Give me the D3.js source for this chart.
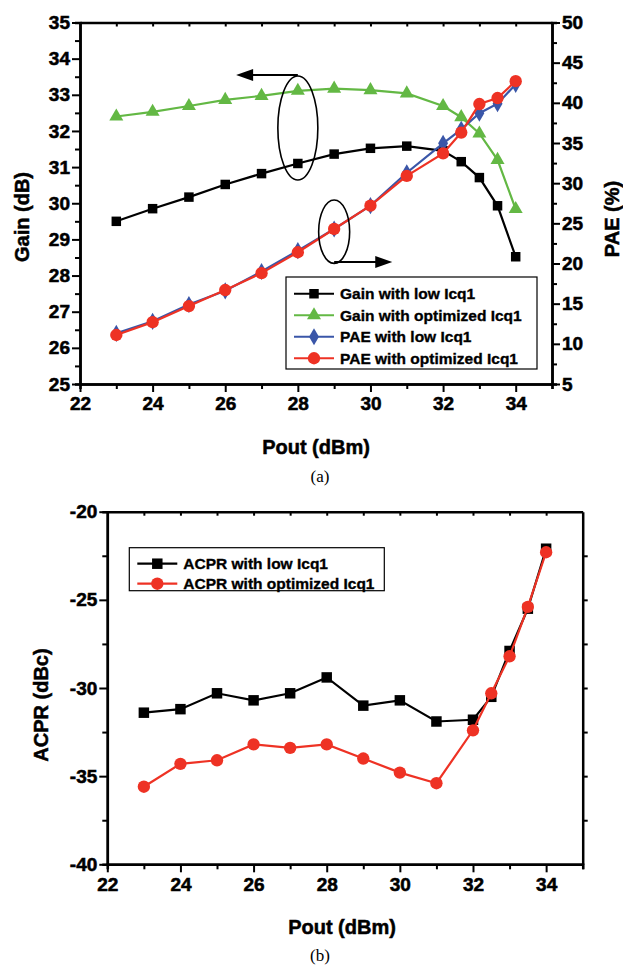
<!DOCTYPE html>
<html>
<head>
<meta charset="utf-8">
<script src="https://cdn.jsdelivr.net/npm/d3@7"></script>
<style>
  body { margin: 0; background: #fff; }
  svg { display: block; }
  text { font-family: "Liberation Sans", Arial, sans-serif; font-weight: bold; fill: #000; }
  .tick text { font-family: "Liberation Sans", Arial, sans-serif; font-weight: bold; font-size: 19px; fill: #000; stroke: #000; stroke-width: 0.55px; }
  .domain, .tick line { stroke: #000; }
</style>
</head>
<body>
<svg id="fig" width="623" height="965"></svg>
<script>
// data
var pout = [23, 24, 25, 26, 27, 28, 29, 30, 31, 32, 32.5, 33, 33.5, 34];
var gainLow = [29.5, 29.85, 30.17, 30.52, 30.82, 31.1, 31.36, 31.52, 31.58, 31.45, 31.15, 30.71, 29.93, 28.52];
var gainOpt = [32.4, 32.53, 32.69, 32.86, 32.97, 33.11, 33.17, 33.13, 33.04, 32.69, 32.38, 31.93, 31.2, 29.84];
var paeLow = [11.3, 12.8, 14.9, 16.6, 19.0, 21.6, 24.3, 27.2, 31.3, 34.96, 36.7, 38.7, 39.9, 42.3];
var paeOpt = [11.1, 12.7, 14.7, 16.7, 18.8, 21.4, 24.3, 27.2, 30.9, 33.7, 36.3, 39.85, 40.6, 42.7];
var acprLow = [-31.4, -31.2, -30.3, -30.7, -30.3, -29.4, -31.0, -30.7, -31.9, -31.8, -30.5, -27.9, -25.5, -22.1];
var acprOpt = [-35.6, -34.3, -34.1, -33.2, -33.4, -33.2, -34.0, -34.8, -35.4, -32.4, -30.3, -28.2, -25.4, -22.3];

var xTicks = [22, 24, 26, 28, 30, 32, 34];
var gainTicks = [25, 26, 27, 28, 29, 30, 31, 32, 33, 34, 35];
var paeTicks = [5, 10, 15, 20, 25, 30, 35, 40, 45, 50];
var acprTicks = [-40, -35, -30, -25, -20];

var seriesA = [
  {name: "Gain with low Icq1", y: gainLow, axis: "L", color: "#000000", sym: d3.symbolSquare, size: 90},
  {name: "Gain with optimized Icq1", y: gainOpt, axis: "L", color: "#63b844", sym: d3.symbolTriangle, size: 85},
  {name: "PAE with low Icq1", y: paeLow, axis: "R", color: "#3a56a8", sym: d3.symbolDiamond, size: 85},
  {name: "PAE with optimized Icq1", y: paeOpt, axis: "R", color: "#ee3224", sym: d3.symbolCircle, size: 120}
];
var seriesB = [
  {name: "ACPR with low Icq1", y: acprLow, color: "#000000", sym: d3.symbolSquare, size: 110},
  {name: "ACPR with optimized Icq1", y: acprOpt, color: "#ee3224", sym: d3.symbolCircle, size: 120}
];

var svg = d3.select("#fig");
var hyphen = function (d) { return String(d); };

function range(a, b, s) { return d3.range(a, b + s / 2, s); }

function styleAxis(g) {
  g.select(".domain").attr("stroke-width", 2.5);
  g.selectAll(".tick line").attr("stroke-width", 2);
}

function drawSeries(g, x, y, s) {
  var line = d3.line()
    .x(function (d, i) { return x(pout[i]); })
    .y(function (d) { return y(d); });
  g.append("path")
    .datum(s.y)
    .attr("fill", "none")
    .attr("stroke", s.color)
    .attr("stroke-width", 2.2)
    .attr("d", line);
  g.selectAll(null)
    .data(s.y)
    .enter().append("path")
    .attr("transform", function (d, i) { return "translate(" + x(pout[i]) + "," + y(d) + ")"; })
    .attr("d", d3.symbol().type(s.sym).size(s.size))
    .attr("fill", s.color);
}

function drawLegend(g, items, left, top, w, h, rowH) {
  g.append("rect")
    .attr("x", left).attr("y", top).attr("width", w).attr("height", h)
    .attr("fill", "#fff").attr("stroke", "#000").attr("stroke-width", 1.2);
  items.forEach(function (s, i) {
    var cy = top + rowH / 2 + 6 + i * rowH;
    g.append("line")
      .attr("x1", left + 8).attr("x2", left + 48).attr("y1", cy).attr("y2", cy)
      .attr("stroke", s.color).attr("stroke-width", 2.2);
    g.append("path")
      .attr("transform", "translate(" + (left + 28) + "," + cy + ")")
      .attr("d", d3.symbol().type(s.sym).size(s.size))
      .attr("fill", s.color);
    g.append("text")
      .attr("x", left + 54).attr("y", cy + 5.5)
      .attr("font-size", "15.5px")
      .attr("stroke", "#000").attr("stroke-width", 0.35)
      .text(s.name);
  });
}

function label(g, txt, x, y, rot) {
  g.append("text")
    .attr("transform", "translate(" + x + "," + y + ")" + (rot ? " rotate(-90)" : ""))
    .attr("text-anchor", "middle")
    .attr("font-size", "20px")
    .attr("stroke", "#000").attr("stroke-width", 0.5)
    .text(txt);
}

function caption(g, txt, x, y) {
  g.append("text")
    .attr("x", x).attr("y", y)
    .attr("text-anchor", "middle")
    .style("font-family", "'Liberation Serif', 'Times New Roman', serif")
    .style("font-weight", "normal")
    .attr("font-size", "17px")
    .text(txt);
}

// ---------- (a) gain / PAE ----------
var xa = d3.scaleLinear().domain([22, 35]).range([80, 552]);
var yGain = d3.scaleLinear().domain([25, 35]).range([384, 22.5]);
var yPae = d3.scaleLinear().domain([5, 50]).range([384, 22.5]);

var ga = svg.append("g");

// minor ticks first
ga.append("g").attr("transform", "translate(0,384)")
  .call(d3.axisBottom(xa).tickValues(range(23, 35, 2)).tickSize(5).tickFormat(""))
  .call(styleAxis);
ga.append("g").attr("transform", "translate(80,0)")
  .call(d3.axisLeft(yGain).tickValues(range(25.5, 34.5, 1)).tickSize(5).tickFormat(""))
  .call(styleAxis);
ga.append("g").attr("transform", "translate(552,0)")
  .call(d3.axisRight(yPae).tickValues(range(7.5, 47.5, 5)).tickSize(5).tickFormat(""))
  .call(styleAxis);
ga.append("g").attr("transform", "translate(0,22.5)")
  .call(d3.axisTop(xa).tickValues(range(23, 34, 1)).tickSize(-4).tickFormat("").tickSizeOuter(0))
  .call(styleAxis);

ga.append("g").attr("transform", "translate(0,384)")
  .call(d3.axisBottom(xa).tickValues(xTicks).tickSize(8).tickSizeOuter(0).tickPadding(5))
  .call(styleAxis);
ga.append("g").attr("transform", "translate(80,0)")
  .call(d3.axisLeft(yGain).tickValues(gainTicks).tickSize(8).tickSizeOuter(0).tickPadding(2))
  .call(styleAxis);
ga.append("g").attr("transform", "translate(552,0)")
  .call(d3.axisRight(yPae).tickValues(paeTicks).tickSize(8).tickSizeOuter(0).tickPadding(2))
  .call(styleAxis);

seriesA.forEach(function (s) {
  drawSeries(ga, xa, s.axis === "L" ? yGain : yPae, s);
});

// ellipses + arrows
ga.append("ellipse")
  .attr("cx", xa(28)).attr("cy", yGain(32.08)).attr("rx", 20).attr("ry", 52)
  .attr("fill", "none").attr("stroke", "#000").attr("stroke-width", 1.6);
ga.append("ellipse")
  .attr("cx", xa(29)).attr("cy", yPae(23.96)).attr("rx", 15.5).attr("ry", 31.7)
  .attr("fill", "none").attr("stroke", "#000").attr("stroke-width", 1.6);

function arrow(g, x1, x2, y) {
  var dir = x2 < x1 ? 1 : -1;
  g.append("line")
    .attr("x1", x1).attr("x2", x2 + dir * 12).attr("y1", y).attr("y2", y)
    .attr("stroke", "#000").attr("stroke-width", 2);
  g.append("path")
    .attr("d", "M" + x2 + "," + y + "L" + (x2 + dir * 17) + "," + (y - 6) + "L" + (x2 + dir * 17) + "," + (y + 6) + "Z")
    .attr("fill", "#000");
}
arrow(ga, xa(28), xa(26.3), yGain(33.55));
arrow(ga, xa(29), xa(30.6), yPae(20.2));

drawLegend(ga, seriesA, 286, 277, 251, 92, 21.5);

label(ga, "Gain (dB)", 29, 217, true);
label(ga, "PAE (%)", 619, 219, true);
label(ga, "Pout (dBm)", 316, 454, false);
caption(ga, "(a)", 320, 482);

// ---------- (b) ACPR ----------
var xb = d3.scaleLinear().domain([22, 35]).range([107.3, 582.7]);
var yAcpr = d3.scaleLinear().domain([-40, -20]).range([864.3, 511.7]);

var gb = svg.append("g");

gb.append("g").attr("transform", "translate(0,864.3)")
  .call(d3.axisBottom(xb).tickValues(range(23, 35, 2)).tickSize(5).tickFormat(""))
  .call(styleAxis);
gb.append("g").attr("transform", "translate(107.3,0)")
  .call(d3.axisLeft(yAcpr).tickValues(range(-37.5, -22.5, 5)).tickSize(5).tickFormat(""))
  .call(styleAxis);
gb.append("g").attr("transform", "translate(582.7,0)")
  .call(d3.axisLeft(yAcpr).tickValues(range(-37.5, -22.5, 2.5)).tickSize(-5).tickFormat("").tickSizeOuter(0))
  .call(styleAxis);
gb.append("g").attr("transform", "translate(0,511.7)")
  .call(d3.axisTop(xb).tickValues(range(23, 34, 1)).tickSize(-4).tickFormat("").tickSizeOuter(0))
  .call(styleAxis);

gb.append("g").attr("transform", "translate(0,864.3)")
  .call(d3.axisBottom(xb).tickValues(xTicks).tickSize(8).tickSizeOuter(0).tickPadding(5))
  .call(styleAxis);
gb.append("g").attr("transform", "translate(107.3,0)")
  .call(d3.axisLeft(yAcpr).tickValues(acprTicks).tickSize(8).tickSizeOuter(0).tickPadding(2)
    .tickFormat(hyphen))
  .call(styleAxis);

seriesB.forEach(function (s) { drawSeries(gb, xb, yAcpr, s); });

drawLegend(gb, seriesB, 129.3, 547.7, 255, 43, 20);

label(gb, "ACPR (dBc)", 48, 705, true);
label(gb, "Pout (dBm)", 342, 934, false);
caption(gb, "(b)", 320, 961);
</script>
</body>
</html>
